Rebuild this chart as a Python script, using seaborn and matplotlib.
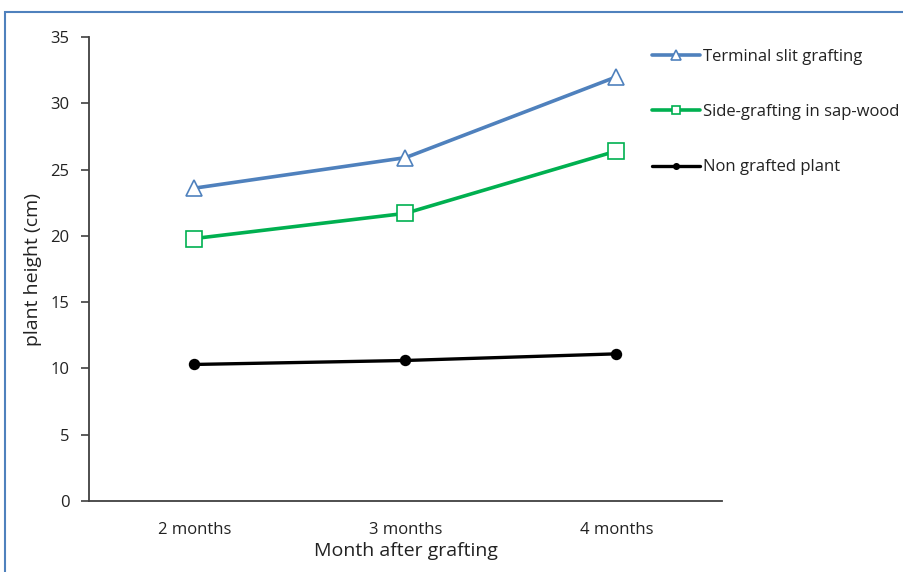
import matplotlib
matplotlib.use("Agg")
import matplotlib.pyplot as plt
import seaborn as sns
import pandas as pd
from matplotlib.patches import Rectangle

months = ["2 months", "3 months", "4 months"]
terminal_slit = [23.6, 25.9, 32.0]
side_grafting = [19.8, 21.7, 26.4]
non_grafted = [10.3, 10.6, 11.1]
yticks = [0, 5, 10, 15, 20, 25, 30, 35]

series = [
    ("Terminal slit grafting", terminal_slit, "#4f81bd", "^", 12, "white", 2.6),
    ("Side-grafting in sap-wood", side_grafting, "#00b050", "s", 11, "white", 2.6),
    ("Non grafted plant", non_grafted, "#000000", "o", 7, "#000000", 2.4),
]

sns.set_theme(style="white")
plt.rcParams["font.family"] = ["Open Sans", "DejaVu Sans"]

fig = plt.figure(figsize=(9.04, 5.72), dpi=100)
ax = fig.add_axes([89 / 904, 1 - 501 / 572, (722 - 89) / 904, (501 - 37) / 572])

for name, vals, color, marker, ms, mfc, lw in series:
    df = pd.DataFrame({"month": months, "value": vals})
    sns.lineplot(data=df, x="month", y="value", ax=ax, color=color, lw=lw,
                 marker=marker, markersize=ms, markerfacecolor=mfc,
                 markeredgecolor=color, markeredgewidth=1.2, label=name)

ax.set_xlim(-0.5, 2.5)
ax.set_ylim(0, 35)
ax.set_yticks(yticks)
ax.tick_params(axis="y", which="both", left=True, length=6, width=1.2,
               color="#404040", labelsize=12, labelcolor="#222222", pad=8)
ax.tick_params(axis="x", bottom=False, labelsize=12, labelcolor="#222222", pad=9)
for s in ["top", "right"]:
    ax.spines[s].set_visible(False)
for s in ["left", "bottom"]:
    ax.spines[s].set_color("#404040")
    ax.spines[s].set_linewidth(1.3)

ax.set_xlabel("Month after grafting", fontsize=14, color="#222222", labelpad=3)
ax.set_ylabel("plant height (cm)", fontsize=14, color="#222222", labelpad=6)

leg = ax.legend(loc="upper left", bbox_to_anchor=(652 / 904, 1 - 49 / 572),
                bbox_transform=fig.transFigure, frameon=False, fontsize=12,
                handlelength=2.9, handletextpad=0.15, labelspacing=2.35,
                markerscale=0.55, borderaxespad=0, borderpad=0)
for t in leg.get_texts():
    t.set_color("#222222")

fig.patches.append(Rectangle((5 / 904, -0.05), 1.2, 1 - 12 / 572 + 0.05,
                             transform=fig.transFigure, fill=False,
                             edgecolor="#4f81bd", linewidth=1.5))

fig.savefig("out.png", dpi=100)
